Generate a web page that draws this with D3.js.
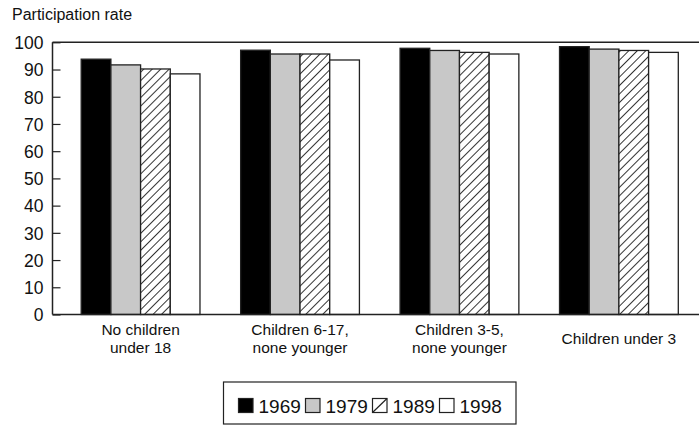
<!DOCTYPE html>
<html>
<head>
<meta charset="utf-8">
<script src="https://cdn.jsdelivr.net/npm/d3@7"></script>
<style>
  body { margin: 0; background: #fff; }
  svg text { font-family: "Liberation Sans", Arial, sans-serif; fill: #111; }
</style>
</head>
<body>
<svg id="chart" width="699" height="426"></svg>
<script>
var categories = [["No children", "under 18"], ["Children 6-17,", "none younger"], ["Children 3-5,", "none younger"], ["Children under 3"]];
var years = ["1969", "1979", "1989", "1998"];
var v1969 = [93.8, 97.1, 97.8, 98.4];
var v1979 = [91.7, 95.7, 97.0, 97.5];
var v1989 = [90.2, 95.7, 96.3, 97.0];
var v1998 = [88.4, 93.5, 95.7, 96.3];
var yTicks = [0, 10, 20, 30, 40, 50, 60, 70, 80, 90, 100];

var series = [v1969, v1979, v1989, v1998];
var fills = ["#000", "#c8c8c8", "url(#hatch)", "#fff"];

var chart = {};

function setup() {
    chart.svg = d3.select("#chart");
    chart.left = 52.5;
    chart.right = 707;
    chart.top = 42.3;
    chart.bottom = 314.5;

    var defs = chart.svg.append("defs");
    var pat = defs.append("pattern")
        .attr("id", "hatch")
        .attr("patternUnits", "userSpaceOnUse")
        .attr("width", 6).attr("height", 6)
        .attr("patternTransform", "rotate(45)");
    pat.append("rect").attr("width", 6).attr("height", 6).attr("fill", "#fff");
    pat.append("line")
        .attr("x1", 0).attr("y1", 0).attr("x2", 0).attr("y2", 6)
        .attr("stroke", "#000").attr("stroke-width", 1.6);

    chart.x = d3.scaleBand()
        .domain(d3.range(categories.length))
        .range([chart.left, chart.right])
        .paddingInner(0.255)
        .paddingOuter(0.18);

    chart.xi = d3.scaleBand()
        .domain(years)
        .range([0, chart.x.bandwidth()]);

    chart.y = d3.scaleLinear()
        .domain([0, 100])
        .range([chart.bottom, chart.top]);

    // title
    chart.svg.append("text")
        .attr("x", 12).attr("y", 20)
        .style("font-size", "16px")
        .text("Participation rate");

    // bars
    var data = [];
    categories.forEach((c, i) => {
        years.forEach((yr, j) => {
            data.push({cat: i, year: yr, value: series[j][i], fill: fills[j]});
        });
    });

    chart.svg.append("g")
        .selectAll("rect")
        .data(data)
        .join("rect")
        .attr("x", d => chart.x(d.cat) + chart.xi(d.year))
        .attr("y", d => chart.y(d.value))
        .attr("width", chart.xi.bandwidth())
        .attr("height", d => chart.y(0) - chart.y(d.value))
        .attr("fill", d => d.fill)
        .attr("stroke", "#222")
        .attr("stroke-width", 1.3);

    // y axis, ticks pointing inward
    var yAxis = chart.svg.append("g")
        .attr("transform", `translate(${chart.left},0)`)
        .call(d3.axisLeft(chart.y).tickValues(yTicks).tickSizeInner(-8).tickSizeOuter(0).tickPadding(9));
    yAxis.select(".domain").remove();
    yAxis.selectAll("line").attr("stroke", "#222").attr("stroke-width", 1.2);
    yAxis.selectAll("text").style("font-size", "17.5px").attr("dy", "0.36em");

    // frame
    var frame = chart.svg.append("g").attr("stroke", "#222").attr("stroke-width", 1.5).attr("fill", "none");
    frame.append("line").attr("x1", chart.left).attr("x2", chart.left).attr("y1", chart.top).attr("y2", chart.bottom);
    frame.append("line").attr("x1", chart.left).attr("x2", 699).attr("y1", chart.top).attr("y2", chart.top);
    frame.append("line").attr("x1", chart.left).attr("x2", 699).attr("y1", chart.bottom).attr("y2", chart.bottom);

    // category labels
    var labels = chart.svg.append("g")
        .selectAll("text")
        .data(categories)
        .join("text")
        .attr("text-anchor", "middle")
        .style("font-size", "15.5px")
        .attr("transform", (d, i) => `translate(${chart.x(i) + chart.x.bandwidth() / 2},${d.length > 1 ? 335 : 344})`);
    labels.selectAll("tspan")
        .data(d => d)
        .join("tspan")
        .attr("x", 0)
        .attr("dy", (d, i) => i ? 18 : 0)
        .text(d => d);

    // legend
    var leg = chart.svg.append("g");
    leg.append("rect")
        .attr("x", 223.5).attr("y", 382).attr("width", 292.5).attr("height", 42)
        .attr("fill", "#fff").attr("stroke", "#222").attr("stroke-width", 1.2);
    var items = leg.selectAll("g")
        .data(years)
        .join("g")
        .attr("transform", (d, i) => `translate(${238.5 + i * 67},398.5)`);
    items.append("rect")
        .attr("width", 14.5).attr("height", 14)
        .attr("fill", (d, i) => i == 2 ? "#fff" : fills[i])
        .attr("stroke", "#222").attr("stroke-width", 1.2);
    items.filter((d, i) => i == 2).append("line")
        .attr("x1", 0).attr("y1", 14).attr("x2", 14.5).attr("y2", 0)
        .attr("stroke", "#222").attr("stroke-width", 1.2);
    items.append("text")
        .attr("x", 20).attr("y", 14)
        .style("font-size", "19px")
        .text(d => d);
}

window.addEventListener("load", setup);
</script>
</body>
</html>
